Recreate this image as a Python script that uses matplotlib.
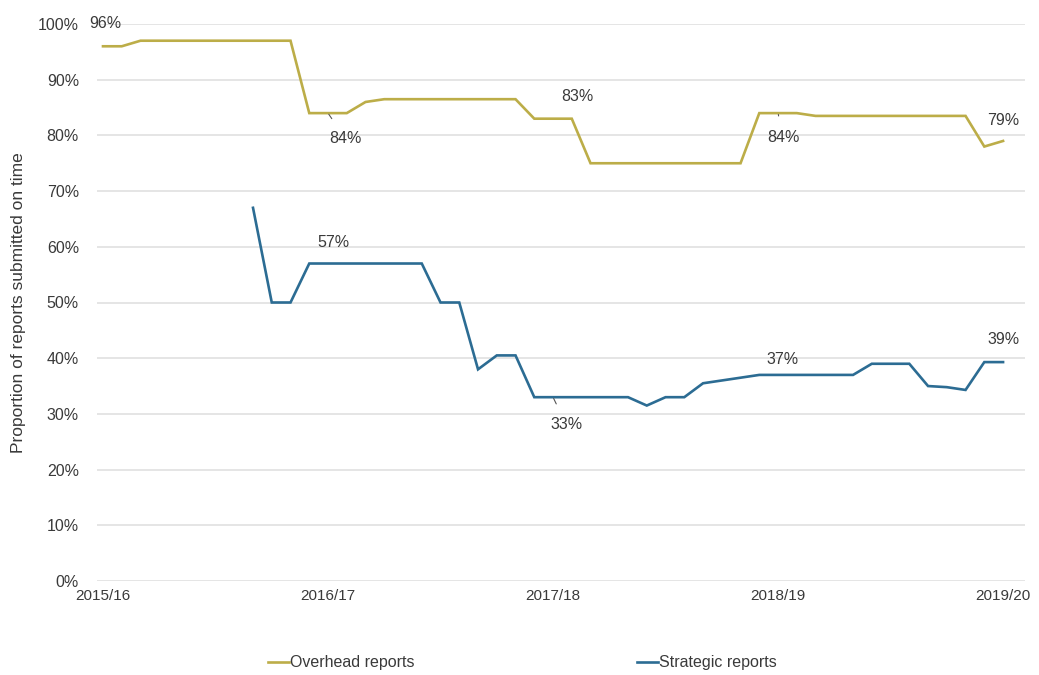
import matplotlib
matplotlib.use("Agg")
import matplotlib.pyplot as plt
import numpy as np

plt.rcParams['font.family'] = ['Liberation Sans', 'DejaVu Sans']

# monthly points, April 2015 onwards (index 0 = start of 2015/16)
overhead = [96, 96, 97, 97, 97, 97, 97, 97, 97, 97, 97,
            84, 84, 84, 86, 86.5, 86.5, 86.5, 86.5, 86.5, 86.5, 86.5, 86.5,
            83, 83, 83, 75, 75, 75, 75, 75, 75, 75, 75, 75,
            84, 84, 84, 83.5, 83.5, 83.5, 83.5, 83.5, 83.5, 83.5, 83.5, 83.5,
            78, 79]
strategic = [np.nan] * 8 + [67, 50, 50, 57, 57, 57, 57, 57, 57, 57,
                            50, 50, 38, 40.5, 40.5, 33, 33, 33, 33, 33, 33,
                            31.5, 33, 33, 35.5, 36, 36.5, 37, 37, 37, 37, 37, 37,
                            39, 39, 39, 35, 34.8, 34.3, 39.3, 39.3]
year_labels = ['2015/16', '2016/17', '2017/18', '2018/19', '2019/20']
year_pos = [0, 12, 24, 36, 48]

# (series, month index, text, offset in pixels, leader line)
point_labels = [
    ('o', 0, '96%', (2, 23), False),
    ('o', 12, '84%', (17, -25), True),
    ('o', 25, '83%', (6, 22), False),
    ('o', 36, '84%', (5, -24), True),
    ('o', 48, '79%', (0, 20), False),
    ('s', 12, '57%', (5, 21), False),
    ('s', 24, '33%', (13, -27), True),
    ('s', 36, '37%', (4, 15), False),
    ('s', 48, '39%', (0, 23), False),
]

OVERHEAD_COL = '#bcad48'
STRATEGIC_COL = '#2c6c93'
TEXT_COL = '#3a3a3a'

fig = plt.figure(figsize=(10.39, 6.75), dpi=100)
ax = fig.add_axes([97 / 1039, 1 - 581 / 675, 928 / 1039, 557 / 675])

x_o = np.arange(len(overhead))
x_s = np.arange(len(strategic))
y_o = np.array(overhead) / 100
y_s = np.array(strategic) / 100

ax.plot(x_o, y_o, color=OVERHEAD_COL, lw=1.9, solid_joinstyle='miter')
ax.plot(x_s, y_s, color=STRATEGIC_COL, lw=1.9, solid_joinstyle='miter')

for series, i, txt, off, leader in point_labels:
    yv = y_o[i] if series == 'o' else y_s[i]
    kw = {}
    if leader:
        kw['arrowprops'] = dict(arrowstyle='-', color='#555555', lw=0.8,
                                shrinkA=8, shrinkB=1)
    ax.annotate(txt, (i, yv), xytext=off, textcoords='offset pixels',
                ha='center', va='center', fontsize=11.5, color=TEXT_COL, **kw)

ax.set_xlim(-0.32, 49.17)
ax.set_ylim(0, 1.0)
ax.set_yticks(np.arange(0, 1.01, 0.1))
ax.set_yticklabels([f'{int(round(v * 100))}%' for v in np.arange(0, 1.01, 0.1)])
ax.set_xticks(year_pos)
ax.set_xticklabels(year_labels)
ax.tick_params(axis='both', length=0, colors=TEXT_COL)
ax.tick_params(axis='y', pad=13, labelsize=11.5)
ax.tick_params(axis='x', pad=6, labelsize=11)
ax.grid(axis='y', color='#e3e3e3', lw=1.3)
ax.set_axisbelow(True)
for sp in ax.spines.values():
    sp.set_visible(False)

ax.set_ylabel('Proportion of reports submitted on time', fontsize=12.5,
              color=TEXT_COL)
ax.yaxis.set_label_coords(-0.076, 0.5)

# two legend entries placed separately along the bottom
for col, name, x0 in [(OVERHEAD_COL, 'Overhead reports', 268),
                      (STRATEGIC_COL, 'Strategic reports', 637)]:
    leg = fig.legend([plt.Line2D([], [], color=col, lw=1.9)], [name],
                     loc='center left', bbox_to_anchor=(x0 / 1039, 1 - 663 / 675),
                     frameon=False, fontsize=11.5, handlelength=1.3,
                     handletextpad=0.1, borderpad=0, borderaxespad=0)
    for t in leg.get_texts():
        t.set_color(TEXT_COL)

fig.savefig('out.png', dpi=100, facecolor='white')
